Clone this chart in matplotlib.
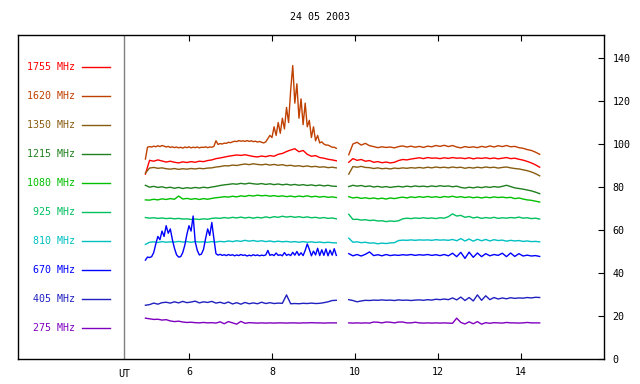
import numpy as np
import matplotlib
matplotlib.use("Agg")
import matplotlib.pyplot as plt

plt.rcParams['font.family'] = ['DejaVu Sans Mono']

title = "24 05 2003"
labels = ["1755 MHz", "1620 MHz", "1350 MHz", "1215 MHz", "1080 MHz",
          "925 MHz", "810 MHz", "670 MHz", "405 MHz", "275 MHz"]
colors = ["#ff0000", "#c04000", "#885c10", "#208020", "#00c000",
          "#00c060", "#00c0c0", "#0000ff", "#2020c0", "#8000c0"]

# observation windows (UT hours): before and after the gap
seg1 = (4.95, 9.55)
seg2 = (9.85, 14.45)

# values (sfu-like units on the right axis)
f1755_a = [86, 92.4, 92.0, 92.6, 92.1, 91.6, 92.0, 91.5, 91.2, 91.7, 91.4, 91.8, 91.5, 92.0, 91.8, 92.3,
           92.6, 93.2, 93.5, 93.9, 94.3, 94.6, 94.9, 94.7, 95.0, 94.6, 94.2, 94.0, 94.4, 94.1, 94.6, 94.3,
           95.2, 95.6, 96.5, 97.2, 97.8, 96.4, 97.0, 95.2, 94.3, 94.6, 93.7, 93.4, 92.9, 92.6, 92.2]
f1755_b = [91.5, 93.2, 92.4, 92.8, 92.0, 92.3, 91.5, 91.8, 91.3, 91.6, 91.2, 91.5, 92.3, 92.8, 92.6, 93.0,
           93.3, 93.6, 93.2, 93.7, 93.4, 93.5, 93.2, 93.6, 93.3, 93.7, 93.4, 93.5, 93.2, 93.6, 93.1, 93.5,
           93.3, 93.6, 93.2, 93.5, 93.1, 93.4, 93.7, 93.2, 93.4, 92.9, 92.5, 91.9, 91.2, 90.3, 89.2]

f1620_a = [93, 98.5, 98.8, 98.6, 99, 98.7, 99.2, 98.8, 99.3, 99, 98.6, 98.9, 98.4, 98.7, 98.3, 98.6,
           98.2, 98.5, 98.1, 98.6, 98.3, 98.7, 98.2, 98.5, 98.3, 98.6, 98.2, 98.5, 98.4, 98.7, 98.3, 98.6,
           98.5, 98.9, 101.5, 99.8, 100.2, 100, 100.4, 100.3, 100.8, 100.6, 101, 101.3, 101.1, 101.6, 101.3,
           101.5, 101.2, 101.6, 101.2, 101.5, 101.1, 101.3, 100.9, 101.2, 100.8,
           100.5, 101, 102.5, 104, 103, 108, 104, 110, 105, 112, 107, 117, 110, 125, 136.5, 119,
           128, 112, 121, 109, 119, 108, 111, 103, 108, 101.5, 104, 100.5, 101, 100, 99.5, 99.5,
           99, 98.5, 98.5, 98]
f1620_b = [95, 100, 100.8, 99.5, 100.3, 99.2, 98.8, 98.3, 98.7, 98.4, 98.6, 98.2, 98.8, 99.1, 98.6, 99,
           98.5, 98.9, 98.4, 99, 98.7, 99.3, 98.9, 99.4, 98.8, 99.3, 98.6, 98.2, 98.8, 98.4, 98.7, 98.3,
           98.9, 98.5, 99.1, 98.6, 99.2, 98.8, 99.3, 98.7, 98.9, 98.3, 98.0, 97.4, 97.0, 96.2, 95.2]

f1350_a = [86.5, 88.8, 89.1, 88.7, 88.9, 88.5, 88.3, 88.6, 88.2, 88.5, 88.3, 88.6, 88.4, 88.7, 88.5, 88.8,
           88.9, 89.3, 89.5, 89.9, 89.8, 90.2, 90.0, 90.4, 90.7, 90.4, 90.8, 90.5, 90.3, 90.6, 90.2, 90.5,
           90.1, 90.4, 89.9, 90.1, 89.7, 89.9, 89.5, 89.8, 89.4, 89.6, 89.2, 89.4, 89.0, 89.2, 88.9]
f1350_b = [86, 89.5, 89.2, 89.6, 89.1, 89.0, 88.6, 88.9, 88.5, 88.7, 88.4, 88.8, 88.6, 88.9, 88.7, 89.0,
           88.8, 89.1, 88.8, 89.2, 88.9, 89.3, 89.0, 89.2, 88.9, 89.3, 89.0, 89.2, 88.7, 89.1, 88.8, 89.2,
           88.9, 89.3, 89.0, 89.2, 88.8, 89.1, 89.3, 88.9, 88.6, 88.4, 88.0, 87.6, 87.0, 86.2, 85.2]

f1215_a = [80.8, 79.9, 80.3, 79.8, 80.1, 79.6, 79.9, 79.4, 79.8, 79.3, 79.7, 79.4, 79.8, 79.5, 79.9, 79.6,
           80.0, 80.3, 80.7, 81.0, 81.2, 81.5, 81.3, 81.7, 81.4, 81.8, 81.5, 81.3, 81.6, 81.2, 81.5, 81.1,
           81.4, 81.0, 81.3, 80.9, 81.2, 80.8, 81.1, 80.7, 81.0, 80.6, 80.9, 80.5, 80.8, 80.4, 80.3]
f1215_b = [80.2, 80.8, 80.4, 80.7, 80.2, 80.5, 80.0, 80.3, 79.9, 80.2, 79.8, 80.1, 80.3, 80.0, 80.4, 80.1,
           80.5, 80.2, 80.4, 80.1, 80.5, 80.2, 80.6, 80.3, 80.5, 80.1, 80.4, 79.8, 79.5, 79.9, 79.6, 80.0,
           79.7, 80.1, 79.8, 80.2, 79.9, 80.3, 80.8, 80.2, 79.6, 79.3, 79.0, 78.6, 78.2, 77.6, 76.9]

f1080_a = [74.0, 73.9, 74.3, 74.0, 74.5, 74.2, 74.6, 74.3, 75.8, 74.4, 74.7, 74.3, 74.6, 74.2, 74.6, 74.3,
           74.7, 75.0, 75.2, 75.5, 75.3, 75.7, 75.4, 75.9, 75.6, 76.1, 75.8, 76.2, 75.9, 76.1, 75.7, 76.0,
           75.6, 75.9, 75.5, 75.8, 75.4, 75.8, 75.5, 75.9, 75.4, 75.7, 75.3, 75.6, 75.2, 75.4, 75.1]
f1080_b = [75.5, 74.9, 75.2, 74.7, 75.0, 74.6, 74.9, 74.5, 74.8, 74.4, 74.9, 74.6, 75.0, 75.3, 74.9, 75.4,
           75.1, 75.5, 75.2, 75.6, 75.2, 75.5, 75.1, 75.6, 75.3, 75.7, 75.2, 75.5, 75.1, 75.4, 75.0, 75.3,
           74.9, 75.3, 75.0, 75.4, 75.1, 75.3, 75.0, 75.2, 74.6, 74.9, 74.4, 74.0, 73.8, 73.4, 73.0]

f925_a = [65.8, 65.5, 65.7, 65.4, 65.6, 65.3, 65.5, 65.2, 65.4, 65.1, 65.2, 64.9, 65.1, 64.9, 65.2, 65.0,
          65.4, 65.6, 65.4, 65.8, 65.5, 65.9, 65.6, 66.0, 65.6, 65.9, 65.5, 65.9, 65.6, 66.1, 65.7, 66.2,
          65.9, 66.4, 66.0, 66.3, 65.9, 66.2, 65.8, 66.1, 65.7, 65.9, 65.5, 65.8, 65.4, 65.6, 65.2]
f925_b = [67.3, 64.9, 65.0, 64.6, 64.8, 64.4, 64.6, 64.2, 64.3, 63.9, 64.2, 64.0, 64.3, 65.2, 65.5, 65.3,
          65.6, 65.4, 65.7, 65.4, 65.6, 65.3, 65.7, 65.5, 66.2, 67.5, 66.5, 66.8, 65.9, 66.3, 65.6, 66.0,
          65.4, 65.8, 65.5, 65.9, 65.4, 65.7, 65.5, 65.8, 65.6, 66.0, 65.5, 65.7, 65.3, 65.5, 65.1]

f810_a = [53.3, 54.3, 54.5, 54.2, 54.6, 54.3, 54.5, 54.4, 54.7, 54.4, 54.6, 54.3, 54.6, 54.4, 54.5, 54.3,
          54.6, 54.4, 54.7, 54.5, 54.9, 54.6, 55.0, 54.7, 55.2, 54.8, 55.1, 54.7, 55.0, 54.6, 54.9, 54.5,
          54.8, 54.5, 54.7, 54.4, 54.6, 54.3, 54.6, 54.3, 54.5, 54.2, 54.4, 54.1, 54.3, 54.1, 54.0]
f810_b = [56.2, 54.3, 54.5, 54.1, 54.3, 53.9, 54.0, 53.6, 53.9, 53.7, 54.0, 54.1, 55.1, 55.3, 55.2, 55.4,
          55.2, 55.4, 55.3, 55.4, 55.2, 55.5, 55.3, 55.4, 55.2, 55.6, 55.0, 56.0, 54.9, 55.8, 54.8, 55.7,
          55.0, 55.6, 54.9, 55.5, 55.1, 55.3, 54.8, 55.2, 54.9, 55.1, 54.7, 54.9, 54.6, 54.7, 54.5]

f670_a = [46.0, 47.4, 47.2, 47.6, 49.5, 53.5, 57.0, 55.5, 59.5, 57.0, 62.0, 58.5, 60.5, 55.5, 51.5, 48.5,
          47.4, 47.6, 49.5, 53.0, 58.0, 62.0, 59.5, 66.5, 54.5, 50.5, 48.4, 48.8, 51.0, 56.0, 60.5, 57.5,
          63.5, 56.0, 49.0, 48.3, 48.7, 48.2, 48.5, 48.1, 48.6, 48.2, 48.5, 48.0, 48.4, 48.1, 48.6, 48.2,
          48.4, 47.9, 48.3, 48.0, 48.5, 48.1, 48.4, 48.0, 48.3, 48.1, 48.4, 50.5, 48.2, 48.6, 48.1, 49.3,
          48.2, 48.5, 48.0, 49.5, 48.2, 48.7, 48.1, 49.6, 48.3, 50.0, 48.2, 49.4, 48.1, 50.5, 53.5, 51.0,
          48.0, 50.2, 48.4, 51.5, 48.1, 50.8, 48.2, 51.2, 48.0, 50.6, 48.3, 51.3, 48.2]
f670_b = [49.0, 48.0, 48.6, 47.9, 48.7, 49.8, 48.1, 48.5, 48.0, 48.6, 48.1, 48.4, 48.2, 48.5, 48.3, 48.6,
          48.2, 48.5, 48.3, 48.6, 48.2, 48.5, 48.1, 48.6, 48.0, 49.2, 47.6, 49.6, 46.8, 49.7, 47.3, 49.3,
          47.6, 49.0, 48.0, 48.6, 48.2, 49.2, 47.6, 49.3, 47.7, 49.0, 47.9, 48.3, 47.9, 48.1, 47.7]

f405_a = [25.0, 25.3, 26.0, 25.5, 26.2, 26.4, 26.0, 26.6, 26.1, 26.8, 26.2, 26.5, 26.9, 26.1, 26.6, 26.3,
          26.8, 26.0, 26.4, 25.8, 26.5, 25.6, 26.2, 25.5, 26.3, 25.7, 26.1, 25.7, 26.4, 25.8, 26.2, 25.8,
          26.0, 25.9, 29.8, 25.7, 25.8, 25.7, 25.9, 25.8, 26.0, 25.8, 25.9, 26.2, 26.6, 27.2, 27.3]
f405_b = [27.6, 27.2, 26.6, 27.0, 27.3, 27.2, 27.4, 27.3, 27.5, 27.3, 27.4, 27.2, 27.5, 27.3, 27.4, 27.2,
          27.4, 27.5, 27.3, 27.6, 27.4, 27.8, 27.6, 27.9, 27.6, 28.4, 27.5, 28.8, 27.2, 28.6, 27.0, 29.8,
          27.3, 29.4, 27.6, 28.6, 27.9, 28.4, 28.0, 28.5, 28.2, 28.4, 28.3, 28.6, 28.4, 28.7, 28.6]

f275_a = [19.0, 18.7, 18.4, 18.5, 18.1, 18.3, 17.7, 17.4, 17.6, 17.2, 17.0, 17.1, 16.9, 16.8, 17.0, 16.8,
          16.9, 16.7, 17.3, 16.4, 17.4, 16.8, 16.2, 17.5, 16.6, 16.9, 16.8, 16.7, 16.8, 16.7, 16.8, 16.7,
          16.8, 16.8, 16.7, 16.8, 16.8, 16.7, 16.8, 16.8, 16.9, 16.8, 16.8, 16.7, 16.8, 16.8, 16.8]
f275_b = [16.8, 16.7, 16.8, 16.7, 16.8, 16.7, 17.2, 17.1, 16.8, 17.2, 17.1, 16.8, 17.2, 17.2, 16.8, 16.8,
          17.1, 16.8, 16.7, 16.8, 16.7, 16.8, 16.7, 16.8, 16.7, 16.6, 19.0, 17.0, 16.3, 17.3, 16.4, 17.4,
          16.2, 16.9, 16.6, 16.9, 16.8, 16.7, 17.0, 16.8, 16.8, 16.7, 16.8, 17.0, 16.8, 16.8, 16.8]

series = [(f1755_a, f1755_b), (f1620_a, f1620_b), (f1350_a, f1350_b), (f1215_a, f1215_b),
          (f1080_a, f1080_b), (f925_a, f925_b), (f810_a, f810_b), (f670_a, f670_b),
          (f405_a, f405_b), (f275_a, f275_b)]

fig = plt.figure(figsize=(6.4, 3.84), dpi=100)
ax = fig.add_axes([18 / 640, 1 - 359 / 384, 586 / 640, 324 / 384])

for (a, b), c in zip(series, colors):
    ax.plot(np.linspace(seg1[0], seg1[1], len(a)), a, color=c, lw=1.0)
    ax.plot(np.linspace(seg2[0], seg2[1], len(b)), b, color=c, lw=1.0)

ax.set_xlim(1.88, 16.0)
ax.set_ylim(0, 150.7)
ax.axvline(4.43, color="#808080", lw=1.0)

ax.set_xticks([6, 8, 10, 12, 14])
ax.set_yticks(range(0, 141, 20))
ax.yaxis.tick_right()
ax.tick_params(axis="x", direction="in", top=True, bottom=True, length=4, width=0.8,
               labelsize=7.2, pad=6)
ax.tick_params(axis="y", direction="in", left=False, right=True, length=4, width=0.8,
               labelsize=7.2, pad=6)
for s in ax.spines.values():
    s.set_linewidth(1.0)

ax.text(4.43, -0.03, "UT", transform=ax.get_xaxis_transform(), ha="center", va="top",
        fontsize=7.2)
fig.text(0.5, 1 - 17 / 384, title, ha="center", va="center", fontsize=7.2)

# channel legend on the left
for i, (lab, c) in enumerate(zip(labels, colors)):
    y = 0.900 - i * 0.0895
    ax.text(0.0973, y, lab, color=c, transform=ax.transAxes, ha="right", va="center",
            fontsize=7.2)
    ax.plot([0.109, 0.157], [y, y], color=c, lw=1.0, transform=ax.transAxes)

fig.savefig("out.png", dpi=100)
